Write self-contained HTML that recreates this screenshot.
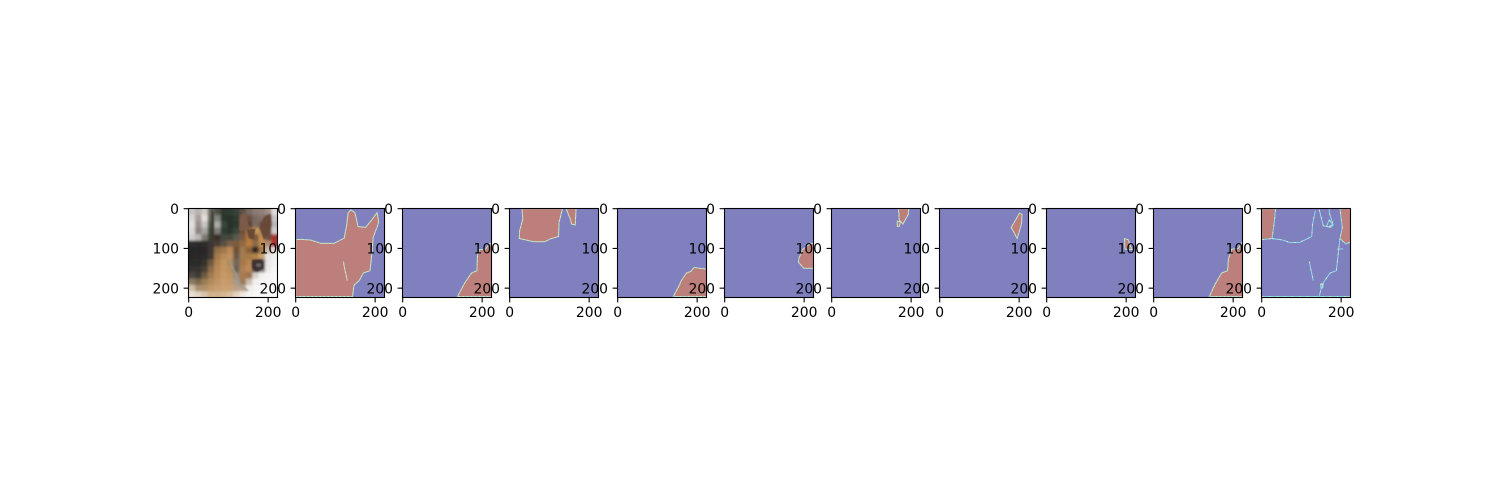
<!DOCTYPE html>
<html>
<head>
<meta charset="utf-8">
<title>Segmentation masks</title>
<style>
html,body{margin:0;padding:0;background:#fff;width:1500px;height:500px;overflow:hidden}
svg{display:block}
text{font-family:"DejaVu Sans","Liberation Sans",sans-serif;font-size:13.9px;fill:#000}
</style>
</head>
<body>
<svg id="figure" xmlns="http://www.w3.org/2000/svg" width="1500" height="500" viewBox="0 0 1500 500">
<defs>
<filter id="soft" filterUnits="userSpaceOnUse" x="170" y="190" width="130" height="130"><feGaussianBlur stdDeviation="0.7"/></filter>
<filter id="softer" filterUnits="userSpaceOnUse" x="170" y="190" width="130" height="130"><feGaussianBlur stdDeviation="1.2"/></filter>
</defs>
</svg>
<script>
// Tick values shared by all panels
const xTickValues = [0, 200];
const yTickValues = [0, 100, 200];
const imageSize = 224;

// Mask outlines (image row / column values), one list per panel
const maskBody = [[[0,78],[13,77],[38,79],[63,87],[97,87],[122,74],[128,43],[132,10],[139,3],[149,10],[157,45],[176,47],[193,26],[205,10],[209,35],[195,72],[193,102],[187,156],[170,162],[160,181],[147,192],[143,221],[0,221]]];
const maskLowerRightA = [[[138,221],[148,202],[156,187],[173,162],[187,156],[188,118],[193,103],[208,102],[219,87],[224,89],[224,221]]];
const maskTop = [[[31,0],[33,26],[25,56],[24,75],[60,83],[89,83],[102,76],[123,70],[124,35],[133,0]],[[142,0],[152,25],[156,39],[165,41],[167,0]]];
const maskLowerRightB = [[[140,221],[155,193],[159,183],[173,162],[184,158],[192,148],[224,152],[224,221]]];
const maskCheek = [[[186,127],[196,103],[216,87],[224,87],[224,150],[199,150],[186,135]]];
const maskEarTop = [[[168,0],[170,28],[179,39],[193,14],[194,0]],[[165,31],[173,33],[170,45],[165,45]]];
const maskEarSide = [[[201,11],[207,14],[206,39],[195,75],[180,47]]];
const maskSmall = [[[196,75],[205,78],[212,97],[215,103],[197,102]]];
const maskLowerRightC = [[[140,221],[155,189],[171,162],[186,156],[188,127],[196,102],[213,100],[223,83],[224,83],[224,221],[140,221]]];
const maskCorners = [[[0,0],[35,0],[32,32],[26,75],[0,78]],[[197,0],[224,0],[224,83],[212,89],[197,75],[203,48]]];
const maskBlob = [[[148,190],[155,188],[154,199],[149,199]]];

const panelMasks = [maskBody, maskLowerRightA, maskTop, maskLowerRightB, maskCheek, maskEarTop, maskEarSide, maskSmall, maskLowerRightC, maskCorners.concat(maskBlob)];

// Thin boundary-only traces
const sliverTrace = [[120,133],[124,155],[130,181]];
const traceNeckLine = [[26,75],[53,79],[70,85],[95,85],[112,77],[126,70],[128,39],[135,5]];
const traceEarLoop = [[145,3],[155,43],[174,47],[180,41],[170,10],[170,0]];
const traceInnerLoop = [[163,45],[170,28],[178,40],[170,45],[163,45]];
const traceChest = [[197,75],[191,127],[188,156],[172,162],[153,189],[145,219]];
const traceShort = [[191,102],[205,101]];
const traceBottom = [[0,221],[224,221]];
const panelTraces = {0:[sliverTrace],9:[sliverTrace,traceNeckLine,traceEarLoop,traceInnerLoop,traceChest,traceShort,traceBottom]};

// Photo colours: 14 x 14 coarse cells, row by row
const photoGrid = [
 ['#c8c4c4','#b8b2b0','#d0ccc8','#6a6a60','#4a5048','#30382f','#2f3a30','#38423a','#5a5048','#7a6a60','#8b7a74','#8f7f78','#a09088','#e0dcdc'],
 ['#d8d4d2','#a89e9a','#e4e0dc','#5c605a','#80847e','#2c362c','#26302a','#2e3a30','#7a5a44','#6a5040','#7a6a62','#84706a','#5c4236','#c8c4c4'],
 ['#e4e0e0','#9a8f8c','#c8c6c0','#4a5248','#a8aca6','#3a443c','#28322a','#2c382e','#745440','#5a4436','#7e6a60','#6a5a52','#5e4434','#bcb8b8'],
 ['#dcd8d8','#8a827e','#a8a6a0','#3c483c','#7a8078','#2e3a30','#2a342c','#3a443a','#6e5038','#a07850','#c8985c','#b88a58','#5a4030','#d0cccc'],
 ['#d0cccc','#bcb6b4','#7c7a74','#384236','#3a2e28','#404a40','#44483e','#5a5a50','#7c5a40','#b0763e','#7a5a3c','#c48e54','#6c5040','#a8302f'],
 ['#2e2c2e','#2c2a2c','#2e2c2c','#3c3634','#4a3e34','#5a5044','#7a6048','#7c5c3c','#906a44','#b87c40','#8a6a48','#c08a50','#b08a70','#b02e32'],
 ['#282628','#282628','#2a2828','#3c3430','#907048','#a07848','#b88a58','#6e5030','#a07a50','#8a6038','#2e2622','#a87844','#cdbcb0','#e8d8d8'],
 ['#2a2828','#2a2828','#2c2a2a','#403830','#a47a4c','#b88a58','#c09060','#6a5a48','#a47c50','#a87a48','#b48448','#c8a070','#e8e4e4','#f0eeee'],
 ['#2c2a2a','#2c2a2a','#34302c','#705a40','#b08450','#c09460','#b08a5c','#74685c','#a4784c','#b88450','#3a3230','#4a4244','#e8e6e6','#f4f2f2'],
 ['#343230','#343230','#4c4034','#8c6c48','#b88a58','#c49660','#b89060','#6a6258','#b08054','#bc8a58','#443c3c','#7c7478','#ece8e8','#f6f4f4'],
 ['#4c4640','#3c3a36','#6e5a40','#a07c50','#bc8e5c','#c89a68','#c09464','#988876','#a87a50','#9a7250','#d8d0c8','#f2f0f0','#f6f4f4','#f8f6f6'],
 ['#8c7a60','#7a6850','#9a7c54','#b48a5c','#c09464','#c89c6c','#c49868','#a89a88','#9a7a58','#ccbcac','#f2f0ee','#f6f4f4','#f8f6f6','#f8f6f6'],
 ['#d0c0a8','#a89070','#b09068','#c09868','#c89e70','#caa074','#c8a070','#b8a08c','#c0a488','#eeeae6','#f6f4f4','#f8f6f6','#f8f8f8','#f8f8f8'],
 ['#e8e0d4','#e0d4c4','#d8c4a8','#d0b490','#d0b48c','#d4b890','#d8c0a0','#e4d4c0','#f0e8e0','#f6f4f2','#f8f6f6','#f8f8f8','#f8f8f8','#f8f8f8']
];

// Sharper photo details: fill colour plus outline in image coordinates
const photoDetails = [
 ['#7b5a48',[[127,55],[130,25],[138,5],[146,18],[152,48],[140,56]]],
 ['#694838',[[178,48],[187,25],[205,12],[208,40],[196,72],[189,78]]],
 ['#6b4a30',[[146,52],[168,50],[164,78],[151,74]]],
 ['#3a3232',[[160,130],[184,128],[189,150],[172,158],[160,150]]],
 ['#6c6468',[[170,138],[182,138],[182,146],[170,146]]],
 ['#3f2f26',[[58,4],[62,4],[62,78],[58,78]]],
 ['#a09a90',[[100,125],[104,128],[132,193],[150,205],[148,208],[128,196]]]
];

const svgNS = 'http://www.w3.org/2000/svg';
const figure = document.getElementById('figure');
const axLeft0 = 187.5, axSize = 89, axTop = 208.5, axStep = 107.31;

function panelLeft(panel){ return Math.round(axLeft0 + panel * axStep + 0.01) + 0.5; }
function xScale(panel, v){ return panelLeft(panel) + (v + 0.5) / imageSize * axSize; }
function yScale(v){ return axTop + (v + 0.5) / imageSize * axSize; }
function pathFor(panel, pts, close){
  return pts.map((p,i)=>(i?'L':'M')+xScale(panel,p[0]).toFixed(2)+' '+yScale(p[1]).toFixed(2)).join('')+(close?'Z':'');
}
function make(tag, parent){ const el=document.createElementNS(svgNS,tag); parent.appendChild(el); return el; }

function drawEdge(parent, panel, pts, close){
  const base = panel === 10 ? '#86e2fa' : '#f4ec9c';
  const dash = panel === 10 ? '#f4ee9c' : '#8cdcf8';
  const a = make('path', parent);
  
  
  a.setAttribute('d', pathFor(panel, pts, close));
  a.setAttribute('fill', 'none');
  a.setAttribute('stroke', base);
  a.setAttribute('stroke-width', '0.9');
  const b = make('path', parent);
  
  
  b.setAttribute('d', pathFor(panel, pts, close));
  b.setAttribute('fill', 'none');
  b.setAttribute('stroke', dash);
  b.setAttribute('stroke-width', '0.9');
  b.setAttribute('stroke-dasharray', panel === 10 ? '1.5 6' : '2 2');
}

function drawPhoto(content){
  const photo = make('g', content);
  
  
  const coarse = make('g', photo);
  coarse.setAttribute('filter', 'url(#softer)');
  const cols = photoGrid[0].length, rows = photoGrid.length;
  const cw = imageSize / cols, ch = imageSize / rows;
  photoGrid.forEach((row, r) => row.forEach((colour, c) => {
    const x0 = c === 0 ? -10 : c * cw, x1 = c === cols - 1 ? imageSize + 10 : (c + 1) * cw;
    const y0 = r === 0 ? -10 : r * ch, y1 = r === rows - 1 ? imageSize + 10 : (r + 1) * ch;
    const cell = make('rect', coarse);
    
    
    cell.setAttribute('x', xScale(0, x0));
    cell.setAttribute('y', yScale(y0));
    cell.setAttribute('width', xScale(0, x1) - xScale(0, x0) + 0.3);
    cell.setAttribute('height', yScale(y1) - yScale(y0) + 0.3);
    cell.setAttribute('fill', colour);
  }));
  const fine = make('g', photo);
  fine.setAttribute('filter', 'url(#soft)');
  photoDetails.forEach(layer => {
    const p = make('path', fine);
    
    
    p.setAttribute('d', pathFor(0, layer[1], true));
    p.setAttribute('fill', layer[0]);
  });
}

function drawAxes(panel){
  const g = make('g', figure);
  
  
  const left = panelLeft(panel);
  const clip = make('clipPath', g);
  clip.setAttribute('id', 'clip' + panel);
  const cr = make('rect', clip);
  cr.setAttribute('x', left); cr.setAttribute('y', axTop);
  cr.setAttribute('width', axSize); cr.setAttribute('height', axSize);
  const content = make('g', g);
  content.setAttribute('clip-path', 'url(#clip' + panel + ')');
  if (panel === 0) {
    drawPhoto(content);
  } else {
    const bg = make('rect', content);
    
    
    bg.setAttribute('x', left); bg.setAttribute('y', axTop);
    bg.setAttribute('width', axSize); bg.setAttribute('height', axSize);
    bg.setAttribute('fill', '#8080bf');
    const idx = panel - 1;
    panelMasks[idx].forEach(poly => {
      const p = make('path', content);
      
      
      p.setAttribute('d', pathFor(panel, poly, true));
      p.setAttribute('fill', '#bd7f7c');
      drawEdge(content, panel, poly, true);
    });
    (panelTraces[idx] || []).forEach(tr => drawEdge(content, panel, tr, false));
  }
  const spine = make('rect', g);
  
  
  spine.setAttribute('x', left); spine.setAttribute('y', axTop);
  spine.setAttribute('width', axSize); spine.setAttribute('height', axSize);
  spine.setAttribute('fill', 'none');
  spine.setAttribute('stroke', '#000');
  spine.setAttribute('stroke-width', '1.1');
  xTickValues.forEach(v => {
    const x = xScale(panel, v), b = axTop + axSize;
    const t = make('line', g);
    
    
    t.setAttribute('x1', x); t.setAttribute('x2', x);
    t.setAttribute('y1', b); t.setAttribute('y2', b + 4.9);
    t.setAttribute('stroke', '#000'); t.setAttribute('stroke-width', '1.1');
    const l = make('text', g);
    
    
    l.setAttribute('x', x); l.setAttribute('y', b + 19.6);
    l.setAttribute('text-anchor', 'middle');
    l.textContent = v;
  });
  yTickValues.forEach(v => {
    const y = yScale(v);
    const t = make('line', g);
    
    
    t.setAttribute('x1', left - 4.9); t.setAttribute('x2', left);
    t.setAttribute('y1', y); t.setAttribute('y2', y);
    t.setAttribute('stroke', '#000'); t.setAttribute('stroke-width', '1.1');
    const l = make('text', g);
    
    
    l.setAttribute('x', left - 9.5); l.setAttribute('y', y + 5.1);
    l.setAttribute('text-anchor', 'end');
    l.textContent = v;
  });
}
for (let i = 0; i < 11; i++) drawAxes(i);
</script>
</body>
</html>
